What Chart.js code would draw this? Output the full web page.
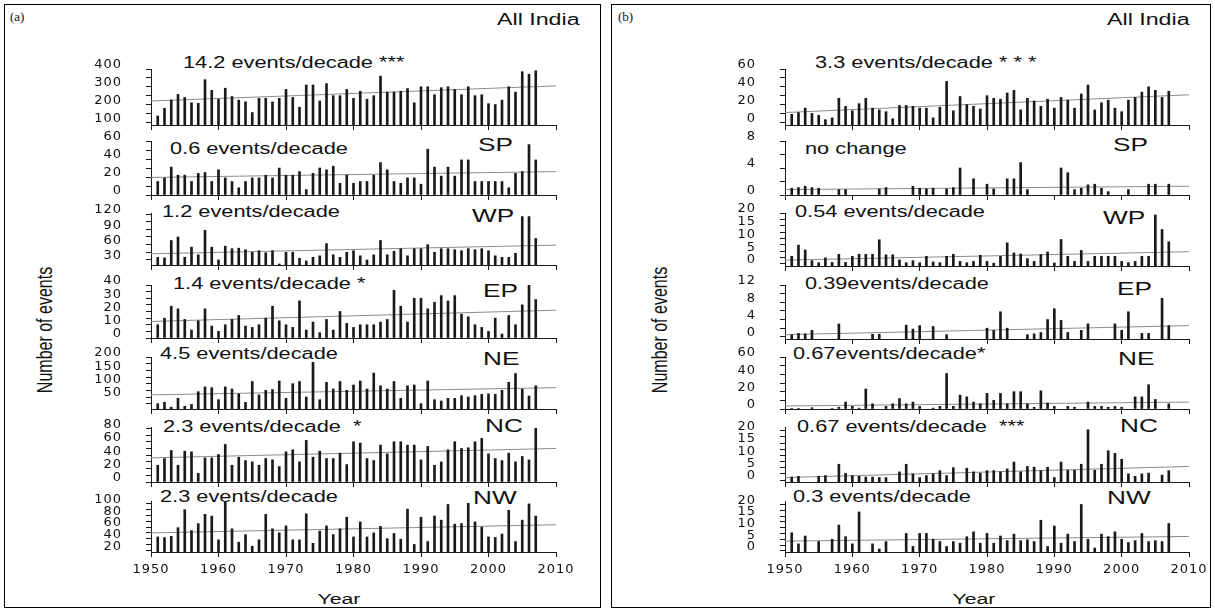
<!DOCTYPE html>
<html>
<head>
<meta charset="utf-8">
<script src="https://cdn.jsdelivr.net/npm/chart.js@4.4.1/dist/chart.umd.min.js"></script>
<style>
  body { margin: 0; width: 1215px; height: 611px; background: #fff; position: relative; overflow: hidden;
         font-family: "Liberation Sans", Arial, sans-serif; color: #111; }
  .frame { position: absolute; border: 1px solid #000; box-sizing: border-box; }
  .t { position: absolute; white-space: nowrap; line-height: 1; font-size: 16px;
       transform-origin: 0 50%; transform: translateY(-50%) scaleX(1.36); }
  .reg { font-size: 19px; transform: translateY(-50%) scaleX(1.38); }
  .head { font-size: 16px; transform: translateY(-50%) scaleX(1.45); }
  .tag { font-family: "Liberation Serif", "Times New Roman", serif; font-size: 13px; transform: translateY(-50%); }
  .mid { position: absolute; white-space: nowrap; line-height: 1; transform-origin: 50% 50%; }
  .year { font-size: 15.5px; transform: translate(-50%, -50%) scaleX(1.37); }
  .ylab { font-size: 16px; transform: translate(-50%, -50%) rotate(-90deg) scaleY(1.37); }
  .plot { position: absolute; }
</style>
</head>
<body>
<div class="frame" style="left:4px;top:4px;width:597px;height:604px"></div>
<div class="frame" style="left:611px;top:4px;width:600px;height:604px"></div>

<div class="t tag" style="left:10px;top:16px">(a)</div>
<div class="t tag" style="left:618px;top:16px">(b)</div>
<div class="t head" style="left:497px;top:20px">All India</div>
<div class="t head" style="left:1107px;top:20px">All India</div>

<div class="t" style="left:183px;top:63px">14.2 events/decade ***</div>
<div class="t" style="left:170px;top:149px">0.6 events/decade</div>
<div class="t" style="left:162px;top:212px">1.2 events/decade</div>
<div class="t" style="left:173px;top:284px">1.4 events/decade *</div>
<div class="t" style="left:160px;top:354px">4.5 events/decade</div>
<div class="t" style="left:163px;top:427px">2.3 events/decade &nbsp;*</div>
<div class="t" style="left:160px;top:497px">2.3 events/decade</div>

<div class="t reg" style="left:478px;top:144px">SP</div>
<div class="t reg" style="left:472px;top:215px">WP</div>
<div class="t reg" style="left:483px;top:290px">EP</div>
<div class="t reg" style="left:483px;top:358px">NE</div>
<div class="t reg" style="left:485px;top:425px">NC</div>
<div class="t reg" style="left:473px;top:497px">NW</div>

<div class="t" style="left:815px;top:63px">3.3 events/decade * * *</div>
<div class="t" style="left:805px;top:149px">no change</div>
<div class="t" style="left:795px;top:212px">0.54 events/decade</div>
<div class="t" style="left:805px;top:284px">0.39events/decade</div>
<div class="t" style="left:793px;top:354px">0.67events/decade*</div>
<div class="t" style="left:797px;top:427px">0.67 events/decade &nbsp;***</div>
<div class="t" style="left:793px;top:497px">0.3 events/decade</div>

<div class="t reg" style="left:1113px;top:144px">SP</div>
<div class="t reg" style="left:1103px;top:217px">WP</div>
<div class="t reg" style="left:1117px;top:288px">EP</div>
<div class="t reg" style="left:1118px;top:358px">NE</div>
<div class="t reg" style="left:1120px;top:425px">NC</div>
<div class="t reg" style="left:1107px;top:497px">NW</div>

<div class="mid ylab" style="left:45px;top:330px">Number of events</div>
<div class="mid ylab" style="left:660px;top:330px">Number of events</div>
<div class="mid year" style="left:339px;top:599px">Year</div>
<div class="mid year" style="left:974px;top:599px">Year</div>

<script>
// Years of record and decade ticks
const years = [1951, 1952, 1953, 1954, 1955, 1956, 1957, 1958, 1959, 1960,
  1961, 1962, 1963, 1964, 1965, 1966, 1967, 1968, 1969, 1970,
  1971, 1972, 1973, 1974, 1975, 1976, 1977, 1978, 1979, 1980,
  1981, 1982, 1983, 1984, 1985, 1986, 1987, 1988, 1989, 1990,
  1991, 1992, 1993, 1994, 1995, 1996, 1997, 1998, 1999, 2000,
  2001, 2002, 2003, 2004, 2005, 2006, 2007];
const decades = [1950, 1960, 1970, 1980, 1990, 2000, 2010];

// (a) number of events per year
const allIndiaA = [136, 179, 226, 257, 240, 210, 207, 340, 280, 230,
  292, 245, 225, 215, 155, 235, 235, 215, 235, 285,
  240, 185, 310, 310, 220, 318, 250, 250, 285, 235,
  275, 230, 250, 360, 270, 270, 275, 290, 210, 300,
  300, 255, 295, 300, 285, 255, 300, 250, 255, 205,
  200, 225, 300, 270, 385, 370, 390];
const spA = [15, 19, 31, 22, 22, 15, 24, 25, 15, 28,
  19, 15, 8, 15, 19, 19, 22, 19, 30, 22,
  22, 26, 6, 24, 30, 28, 32, 13, 22, 13,
  15, 15, 22, 36, 28, 15, 13, 19, 19, 12,
  51, 31, 21, 31, 21, 39, 39, 15, 15, 15,
  15, 15, 8, 24, 26, 56, 39];
const wpA = [35, 34, 68, 75, 35, 55, 40, 88, 55, 30,
  57, 52, 53, 50, 45, 48, 44, 48, 22, 45,
  45, 33, 28, 35, 38, 62, 40, 35, 45, 48,
  38, 30, 40, 68, 40, 47, 52, 38, 52, 52,
  60, 45, 52, 52, 50, 48, 52, 50, 52, 48,
  38, 35, 35, 43, 115, 115, 72];
const epA = [10, 15, 24, 22, 14, 6, 13, 22, 9, 5,
  10, 14, 17, 9, 8, 10, 15, 24, 13, 10,
  8, 28, 6, 12, 4, 14, 6, 20, 11, 8,
  10, 10, 10, 12, 14, 36, 24, 12, 30, 30,
  22, 27, 32, 28, 32, 18, 16, 10, 8, 5,
  15, 3, 17, 10, 25, 40, 29];
const neA = [25, 30, 12, 45, 15, 22, 70, 88, 85, 40,
  88, 80, 62, 30, 108, 58, 75, 78, 110, 45,
  100, 108, 50, 180, 40, 105, 80, 108, 75, 95,
  110, 80, 140, 92, 80, 108, 45, 92, 95, 25,
  110, 40, 35, 45, 45, 55, 50, 55, 60, 62,
  60, 75, 105, 138, 80, 54, 92];
const ncA = [25, 35, 47, 25, 46, 45, 13, 36, 36, 41,
  56, 25, 37, 32, 30, 25, 35, 33, 23, 45,
  48, 30, 62, 37, 46, 35, 35, 43, 26, 60,
  58, 35, 32, 55, 42, 60, 60, 55, 55, 33,
  53, 25, 30, 48, 60, 50, 51, 60, 65, 42,
  35, 32, 43, 30, 38, 33, 80];
const nwA = [43, 42, 44, 59, 90, 54, 66, 82, 79, 38,
  104, 57, 34, 47, 27, 38, 82, 57, 50, 62,
  38, 38, 83, 32, 53, 62, 47, 57, 77, 43,
  69, 43, 50, 61, 40, 49, 39, 91, 30, 77,
  35, 79, 72, 99, 65, 66, 101, 69, 60, 43,
  42, 48, 89, 35, 72, 100, 79];

// (b) number of events per year
const allIndiaB = [9, 11, 16, 10, 8, 3, 5, 27, 18, 13,
  21, 27, 16, 14, 12, 4, 19, 19, 18, 16,
  16, 5, 17, 46, 13, 29, 20, 18, 15, 30,
  27, 26, 33, 36, 14, 27, 24, 18, 26, 16,
  28, 25, 16, 32, 42, 14, 22, 25, 16, 12,
  25, 28, 34, 40, 36, 28, 35];
const spB = [1.0, 1.1, 1.3, 1.1, 1.0, 0, 0, 0.8, 0.8, 0,
  0, 0, 0, 0.9, 1.1, 0, 0, 0, 1.3, 1.0,
  0.9, 1.0, 0, 0.9, 1.1, 4.0, 0, 2.4, 0, 1.6,
  0.9, 0, 2.4, 2.4, 4.8, 0.8, 0, 0, 0, 0,
  4.0, 3.3, 0.8, 1.0, 1.5, 1.6, 1.0, 0.5, 0, 0,
  0.8, 0, 0, 1.6, 1.6, 0, 1.6];
const wpB = [3.0, 7.4, 5.5, 1.3, 0.5, 2.4, 0.6, 3.8, 0.6, 3.0,
  3.8, 3.8, 3.8, 9.5, 3.6, 3.6, 1.6, 0.5, 1.3, 0.5,
  3.0, 0.8, 0.5, 3.0, 3.8, 1.0, 0.5, 1.0, 3.4, 1.0,
  0.3, 3.0, 8.3, 4.3, 3.9, 2.1, 1.0, 3.7, 4.7, 0.4,
  9.6, 3.0, 1.0, 5.3, 1.0, 3.0, 3.0, 3.0, 3.0, 1.0,
  0.5, 1.0, 3.0, 3.0, 19.2, 13.5, 8.7];
const epB = [0.5, 0.8, 0.7, 1.5, 0, 0, 0, 3.0, 0, 0,
  0, 0, 0.6, 0.6, 0, 0, 0, 2.7, 1.8, 2.6,
  0, 2.4, 0, 0.5, 0, 0, 0, 0, 0, 2.0,
  1.5, 5.8, 2.0, 0, 0, 0.5, 0.7, 1.0, 4.0, 6.5,
  3.8, 1.0, 0, 1.5, 3.0, 0, 0, 0, 3.0, 1.5,
  5.8, 0, 0.8, 0.8, 0, 8.9, 2.6];
const neB = [0.5, 0.5, 0, 1.5, 0, 0, 0.5, 2, 8, 3,
  1, 23, 6, 0, 3, 6, 12, 6, 8, 3,
  0, 1, 3, 41, 3, 16, 14, 8, 6, 18,
  10, 18, 6, 20, 20, 6, 2, 21, 7, 3,
  0, 3, 2, 0, 8, 3, 3, 2, 3, 2,
  0, 14, 14, 28, 11, 0, 6];
const ncB = [1.2, 1.5, 0, 0, 1.5, 1.8, 0, 6.4, 2.7, 1.8,
  1.5, 1.2, 1.2, 1.0, 1.0, 0, 3.3, 6.4, 2.5, 1.0,
  1.8, 2.5, 3.8, 1.8, 5.0, 0, 4.8, 3.3, 2.8, 3.8,
  3.8, 3.3, 4.5, 7.3, 3.3, 5.5, 5.2, 3.8, 5.2, 1.0,
  7.3, 4.0, 4.0, 6.4, 20.4, 4.0, 6.4, 11.9, 10.8, 8.4,
  2.5, 1.5, 2.5, 2.8, 0, 2.0, 3.8];
const nwB = [7.8, 3.0, 6.4, 0, 4.0, 0, 5.0, 11.1, 6.1, 3.0,
  16.8, 0, 3.0, 0.8, 4.0, 0, 0, 7.5, 1.9, 7.5,
  7.5, 5.0, 4.0, 1.9, 4.0, 3.3, 6.1, 8.2, 3.3, 7.5,
  3.3, 6.4, 4.4, 7.2, 4.4, 4.8, 4.0, 13.2, 1.9, 10.7,
  3.3, 7.2, 4.0, 20.0, 5.0, 1.2, 7.2, 6.1, 8.2, 5.0,
  3.6, 4.4, 7.5, 4.0, 4.4, 4.0, 11.8];

// Linear trend, value at 1950 and at 2010
const allIndiaTrendA = [220, 305];
const spTrendA = [19.5, 26];
const wpTrendA = [42, 59];
const epTrendA = [12.5, 21];
const neTrendA = [58, 85];
const ncTrendA = [36, 50];
const nwTrendA = [50, 64];
const allIndiaTrendB = [11, 31];
const spTrendB = [0.8, 1.3];
const wpTrendB = [1.5, 4.8];
const epTrendB = [0.5, 2.6];
const neTrendB = [3.5, 8];
const ncTrendB = [1, 5.5];
const nwTrendB = [4.2, 6.2];

// Y tick marks, and the ones that carry a label
const allIndiaTicksA = [100, 150, 200, 250, 300, 350, 400];
const allIndiaLabelsA = [100, 200, 300, 400];
const spTicksA = [0, 10, 20, 30, 40, 50, 60];
const spLabelsA = [0, 20, 40, 60];
const wpTicksA = [30, 45, 60, 75, 90, 105, 120];
const wpLabelsA = [30, 60, 90, 120];
const epTicksA = [0, 5, 10, 15, 20, 25, 30, 35, 40];
const epLabelsA = [0, 10, 20, 30, 40];
const neTicksA = [25, 50, 75, 100, 125, 150, 175, 200];
const neLabelsA = [50, 100, 150, 200];
const ncTicksA = [0, 10, 20, 30, 40, 50, 60, 70, 80];
const ncLabelsA = [0, 20, 40, 60, 80];
const nwTicksA = [20, 30, 40, 50, 60, 70, 80, 90, 100];
const nwLabelsA = [20, 40, 60, 80, 100];
const allIndiaTicksB = [0, 10, 20, 30, 40, 50, 60];
const allIndiaLabelsB = [0, 20, 40, 60];
const spTicksB = [0, 2, 4, 6, 8];
const spLabelsB = [0, 4, 8];
const wpTicksB = [0, 2.5, 5, 7.5, 10, 12.5, 15, 17.5, 20];
const wpLabelsB = [0, 5, 10, 15, 20];
const epTicksB = [0, 2, 4, 6, 8, 10, 12];
const epLabelsB = [0, 4, 8, 12];
const neTicksB = [0, 10, 20, 30, 40, 50, 60];
const neLabelsB = [0, 20, 40, 60];
const ncTicksB = [0, 2.5, 5, 7.5, 10, 12.5, 15, 17.5, 20];
const ncLabelsB = [0, 5, 10, 15, 20];
const nwTicksB = [0, 2.5, 5, 7.5, 10, 12.5, 15, 17.5, 20];
const nwLabelsB = [0, 5, 10, 15, 20];

// Page layout of each panel and its strips
const panelA = { left: 151, right: 556 };
const panelB = { left: 785, right: 1189 };

const stripsA = [
  { values: allIndiaA, trend: allIndiaTrendA, ticks: allIndiaTicksA, labels: allIndiaLabelsA, min: 85, max: 400, top: 69, bottom: 125 },
  { values: spA, trend: spTrendA, ticks: spTicksA, labels: spLabelsA, min: 0, max: 60, top: 141, bottom: 195 },
  { values: wpA, trend: wpTrendA, ticks: wpTicksA, labels: wpLabelsA, min: 20, max: 122, top: 213, bottom: 265 },
  { values: epA, trend: epTrendA, ticks: epTicksA, labels: epLabelsA, min: 0, max: 40, top: 285, bottom: 338 },
  { values: neA, trend: neTrendA, ticks: neTicksA, labels: neLabelsA, min: 5, max: 200, top: 357, bottom: 409 },
  { values: ncA, trend: ncTrendA, ticks: ncTicksA, labels: ncLabelsA, min: 0, max: 82, top: 427, bottom: 482 },
  { values: nwA, trend: nwTrendA, ticks: nwTicksA, labels: nwLabelsA, min: 17, max: 105, top: 501, bottom: 552 },
];
const stripsB = [
  { values: allIndiaB, trend: allIndiaTrendB, ticks: allIndiaTicksB, labels: allIndiaLabelsB, min: -3, max: 60, top: 69, bottom: 125 },
  { values: spB, trend: spTrendB, ticks: spTicksB, labels: spLabelsB, min: 0, max: 8, top: 141, bottom: 195 },
  { values: wpB, trend: wpTrendB, ticks: wpTicksB, labels: wpLabelsB, min: -0.8, max: 20, top: 213, bottom: 266 },
  { values: epB, trend: epTrendB, ticks: epTicksB, labels: epLabelsB, min: -0.5, max: 12, top: 285, bottom: 339 },
  { values: neB, trend: neTrendB, ticks: neTicksB, labels: neLabelsB, min: 0, max: 60, top: 357, bottom: 409 },
  { values: ncB, trend: ncTrendB, ticks: ncTicksB, labels: ncLabelsB, min: -0.8, max: 21.5, top: 427, bottom: 482 },
  { values: nwB, trend: nwTrendB, ticks: nwTicksB, labels: nwLabelsB, min: -0.5, max: 21.5, top: 501, bottom: 552 },
];

const INK = '#1a1a1a';
const tickFont = { family: '"DejaVu Sans", "Liberation Sans", sans-serif', size: 13 };

// a little extra glyph spacing, the source figure is stretched sideways
const spacingPlugin = {
  id: 'spacing',
  beforeDraw(chart) {
    chart.ctx.letterSpacing = '1px';
  }
};

function drawStrip(panel, strip, isLast) {
  const padTop = 10, padRight = 20, yWidth = 100;
  const xHeight = isLast ? 32 : 8;
  const w = yWidth + (panel.right - panel.left) + padRight;
  const h = padTop + (strip.bottom - strip.top) + xHeight;

  const canvas = document.createElement('canvas');
  canvas.className = 'plot';
  canvas.width = w;
  canvas.height = h;
  canvas.style.left = (panel.left - yWidth) + 'px';
  canvas.style.top = (strip.top - padTop) + 'px';
  canvas.style.width = w + 'px';
  canvas.style.height = h + 'px';
  document.body.appendChild(canvas);

  new Chart(canvas, {
    type: 'bar',
    data: {
      datasets: [
        {
          type: 'line',
          data: [{ x: 1950, y: strip.trend[0] }, { x: 2010, y: strip.trend[1] }],
          borderColor: '#8c8c8c',
          borderWidth: 1,
          pointRadius: 0,
          order: 2,
        },
        {
          type: 'bar',
          data: years.map((yr, i) => ({ x: yr, y: strip.values[i] === 0 ? null : strip.values[i] })),
          backgroundColor: INK,
          borderWidth: 0,
          barThickness: 2,
          base: strip.min,
          order: 1,
        },
      ],
    },
    options: {
      responsive: false,
      animation: false,
      devicePixelRatio: 1,
      layout: { padding: { top: padTop, right: padRight, left: 0, bottom: 0 } },
      plugins: { legend: { display: false }, tooltip: { enabled: false } },
      scales: {
        x: {
          type: 'linear',
          min: 1950,
          max: 2010,
          offset: false,
          afterBuildTicks: (scale) => { scale.ticks = decades.map((v) => ({ value: v })); },
          afterFit: (scale) => {
            scale.height = xHeight;
            scale.paddingLeft = 0;
            scale.paddingRight = 0;
          },
          ticks: {
            display: isLast,
            autoSkip: false,
            maxRotation: 0,
            padding: 5,
            font: tickFont,
            color: '#111',
            callback: (v) => String(v),
          },
          grid: { drawOnChartArea: false, offset: false, tickLength: 5, color: INK },
          border: { color: INK, width: 1 },
        },
        y: {
          type: 'linear',
          min: strip.min,
          max: strip.max,
          beginAtZero: false,
          afterBuildTicks: (scale) => { scale.ticks = strip.ticks.map((v) => ({ value: v })); },
          afterFit: (scale) => {
            scale.width = yWidth;
            scale.paddingTop = 0;
            scale.paddingBottom = 0;
          },
          ticks: {
            autoSkip: false,
            padding: 24,
            labelOffset: -4,
            font: tickFont,
            color: '#111',
            callback: (v) => (strip.labels.includes(v) ? String(v) : ''),
          },
          grid: { drawOnChartArea: false, tickLength: 5, color: INK },
          border: { color: INK, width: 1 },
        },
      },
    },
    plugins: [spacingPlugin],
  });
}

stripsA.forEach((s, i) => drawStrip(panelA, s, i === stripsA.length - 1));
stripsB.forEach((s, i) => drawStrip(panelB, s, i === stripsB.length - 1));
</script>
</body>
</html>
